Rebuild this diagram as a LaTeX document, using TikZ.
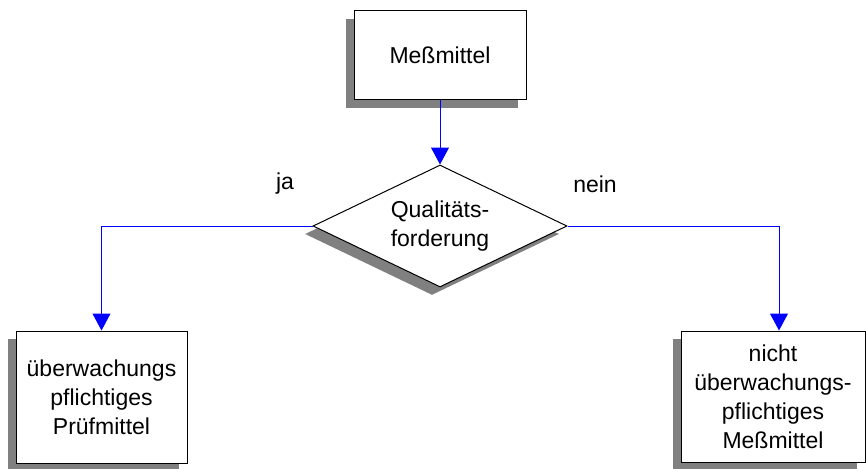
\documentclass[tikz,border=0pt]{standalone}
\usepackage{fontspec}
\setmainfont{Liberation Sans}
\usetikzlibrary{shapes.geometric,shadows,arrows.meta}
\definecolor{shadowgray}{RGB}{128,128,128}
\begin{document}
\begin{tikzpicture}[x=1pt,y=-1pt,
  every node/.style={font=\fontsize{23}{29}\selectfont, align=center, inner sep=0pt},
  shade box/.style={draw=black, line width=1pt, fill=white,
    drop shadow={shadow xshift=-8pt, shadow yshift=-8pt, fill=shadowgray, opacity=1}},
  flowbox/.style={shade box, rectangle},
  decision/.style={shade box, diamond, aspect=2.08},
  flow/.style={draw=blue, line width=1pt, -{Triangle[width=18pt,length=17pt]}}
]
\useasboundingbox (0,0) rectangle (866,468);

% boxes
\node[flowbox, minimum width=172pt, minimum height=89pt] (top) at (440,55.5) {Meßmittel};
\node[decision, minimum width=254pt, minimum height=122pt] (dia) at (440,226) {Qualitäts-\\forderung};
\node[flowbox, minimum width=171pt, minimum height=132pt] (lb) at (101.5,397) {überwachungs\\pflichtiges\\Prüfmittel};
\node[flowbox, minimum width=184pt, minimum height=131pt] (rb) at (773,396.5) {nicht\\überwachungs-\\pflichtiges\\Meßmittel};

% branch labels
\node (ja) at (285,184) {ja};
\node (nein) at (595,184) {nein};

% connectors
\draw[flow] (top.south) -- (dia.north);
\draw[flow] (dia.west) -| (lb.north);
\draw[flow] (dia.east) -| ([xshift=6pt]rb.north);
\end{tikzpicture}
\end{document}
